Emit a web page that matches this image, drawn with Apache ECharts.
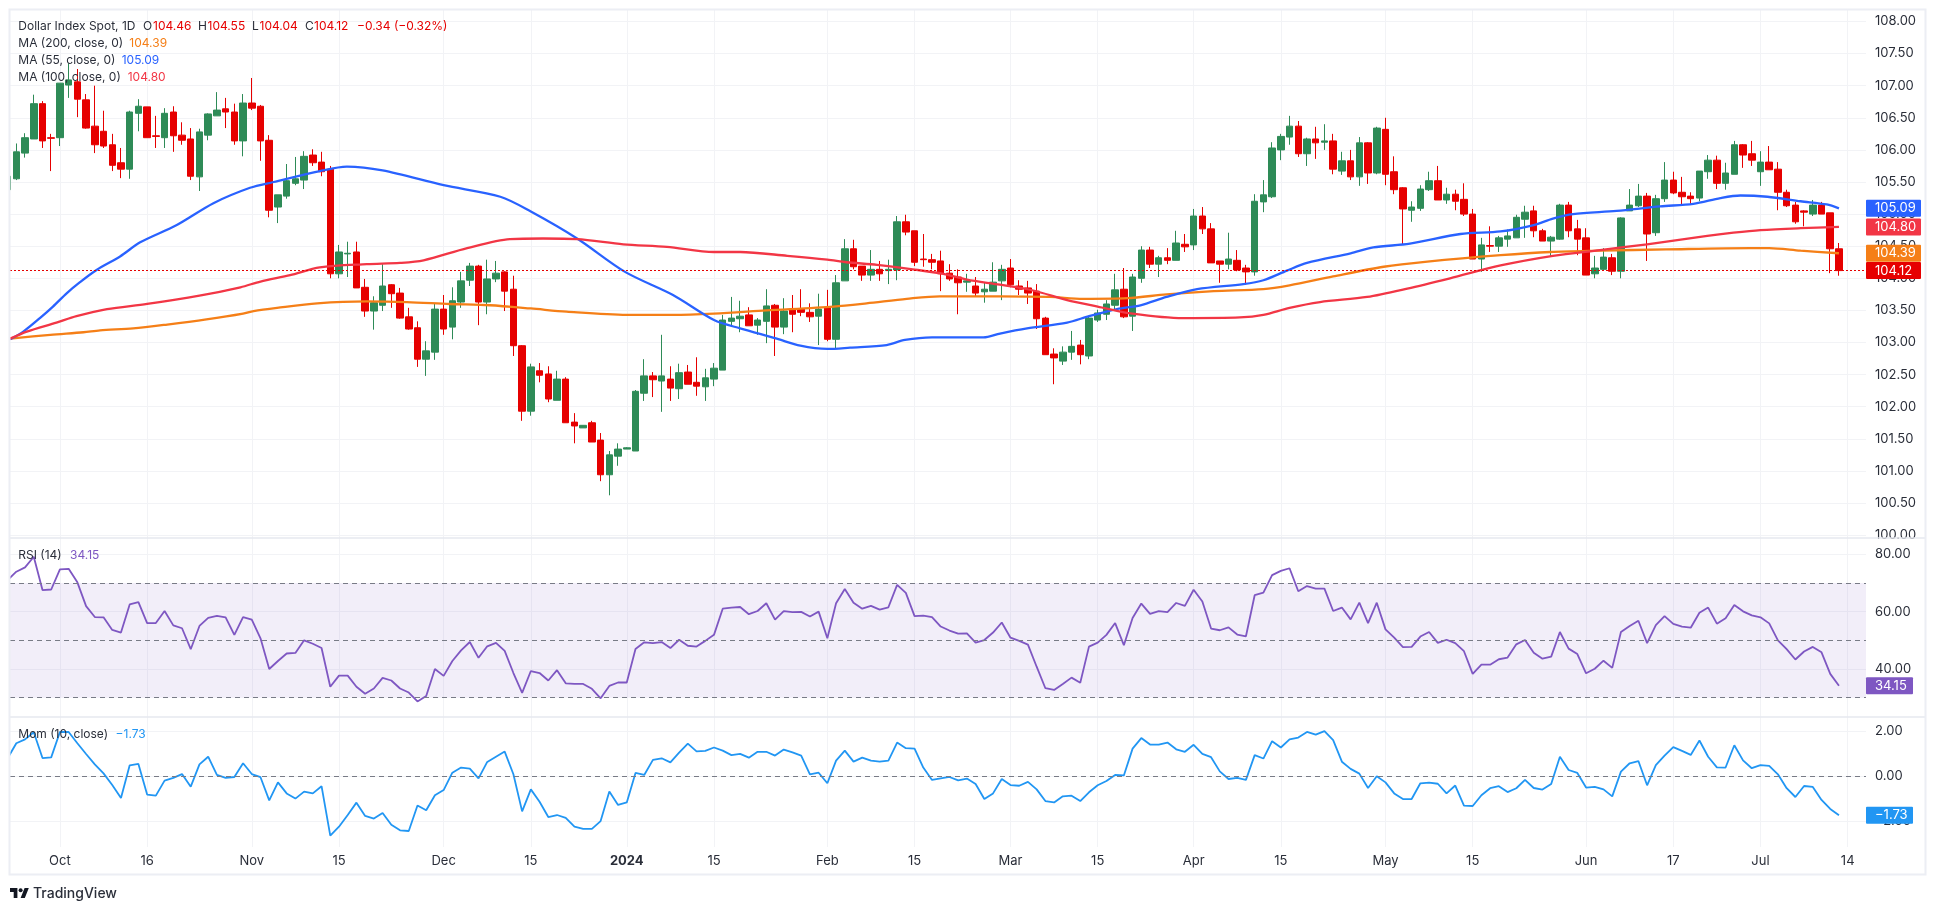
<!DOCTYPE html>
<html>
<head>
<meta charset="utf-8">
<title>Dollar Index Spot</title>
<style>
html, body { margin: 0; padding: 0; background: #fff; }
#container { width: 1936px; height: 910px; }
</style>
<script src="https://cdn.jsdelivr.net/npm/echarts@6/dist/echarts.min.js"></script>
</head>
<body>
<div id="container"></div>
<script>
// daily bars, bar 0 is the clipped one at the left edge: open, high, low, close
var ohlc = [
[105.38,105.60,105.38,105.59],[105.55,106.10,105.53,105.97],[105.95,106.26,105.88,106.19],[106.17,106.86,106.17,106.72],[106.72,106.76,106.03,106.14],
[106.19,106.25,105.67,106.18],[106.19,107.04,106.06,107.04],[107.01,107.35,106.81,107.09],[107.06,107.26,106.51,106.79],[106.78,106.87,106.33,106.34],
[106.37,107.00,105.95,106.08],[106.29,106.61,106.03,106.06],[106.08,106.25,105.67,105.76],[105.80,106.03,105.56,105.70],[105.70,106.61,105.55,106.59],
[106.57,106.79,106.29,106.68],[106.67,106.67,106.19,106.19],[106.22,106.53,106.03,106.21],[106.19,106.65,106.03,106.57],[106.59,106.68,105.97,106.22],
[106.23,106.43,106.08,106.15],[106.17,106.34,105.53,105.59],[105.58,106.33,105.36,106.28],[106.23,106.57,106.15,106.56],[106.53,106.90,106.53,106.62],
[106.64,106.81,106.34,106.59],[106.59,106.72,106.08,106.14],[106.14,106.87,105.90,106.73],[106.73,107.12,106.62,106.65],[106.68,106.70,105.83,106.14],
[106.15,106.23,104.95,105.06],[105.11,105.30,104.86,105.30],[105.28,105.78,105.24,105.52],[105.48,105.89,105.45,105.55],[105.53,105.98,105.39,105.90],
[105.92,106.01,105.75,105.80],[105.81,105.97,105.59,105.66],[105.70,105.75,104.00,104.07],[104.07,104.52,104.00,104.41],[104.38,104.57,104.02,104.39],
[104.41,104.57,103.85,103.85],[103.86,103.99,103.40,103.49],[103.49,103.72,103.20,103.62],[103.58,104.22,103.49,103.88],[103.90,103.91,103.54,103.76],
[103.77,103.85,103.37,103.38],[103.40,103.54,103.20,103.21],[103.23,103.33,102.62,102.74],[102.74,103.02,102.48,102.87],[102.85,103.60,102.73,103.52],
[103.52,103.74,103.12,103.21],[103.24,103.86,103.05,103.65],[103.63,104.10,103.54,103.96],[103.97,104.24,103.88,104.19],[104.19,104.21,103.27,103.63],
[103.63,104.29,103.44,103.99],[103.99,104.27,103.94,104.08],[104.10,104.11,103.49,103.80],[103.83,104.04,102.79,102.95],[102.95,102.96,101.78,101.93],
[101.93,102.67,101.86,102.62],[102.56,102.68,102.38,102.49],[102.51,102.63,102.07,102.12],[102.10,102.56,102.10,102.43],[102.43,102.46,101.75,101.75],
[101.76,101.90,101.43,101.70],[101.67,101.71,101.67,101.71],[101.75,101.78,101.45,101.45],[101.48,101.59,100.84,100.94],[100.94,101.31,100.62,101.25],
[101.23,101.43,101.08,101.34],[101.34,101.37,101.34,101.36],[101.31,102.26,101.31,102.24],[102.21,102.74,102.09,102.48],[102.48,102.54,102.15,102.42],
[102.40,103.12,101.92,102.48],[102.43,102.63,102.09,102.29],[102.28,102.67,102.12,102.53],[102.54,102.65,102.35,102.35],[102.38,102.77,102.17,102.32],
[102.31,102.59,102.09,102.45],[102.43,102.68,102.32,102.60],[102.57,103.43,102.57,103.35],[103.33,103.71,103.27,103.38],[103.37,103.65,103.16,103.41],
[103.43,103.55,103.26,103.26],[103.27,103.38,103.12,103.35],[103.33,103.83,102.99,103.57],[103.58,103.60,102.79,103.24],[103.24,103.69,103.13,103.49],
[103.51,103.74,103.16,103.44],[103.52,103.83,103.41,103.47],[103.47,103.61,103.32,103.40],[103.41,103.76,102.96,103.52],[103.54,103.82,103.02,103.05],
[103.05,104.05,102.91,103.93],[103.96,104.61,103.96,104.46],[104.46,104.60,104.14,104.18],[104.19,104.19,103.96,104.05],[104.05,104.44,103.96,104.14],
[104.14,104.27,103.96,104.07],[104.12,104.29,103.91,104.14],[104.13,104.97,103.97,104.88],[104.88,104.99,104.67,104.72],[104.74,104.74,104.19,104.25],
[104.30,104.69,104.18,104.29],[104.29,104.38,104.14,104.25],[104.27,104.43,103.80,104.07],[104.08,104.22,103.96,103.99],[104.02,104.14,103.44,103.93],
[103.94,104.07,103.79,103.96],[103.88,104.02,103.72,103.77],[103.79,103.93,103.62,103.83],[103.80,104.25,103.80,103.94],[103.96,104.21,103.66,104.14],
[104.16,104.30,103.86,103.90],[103.88,103.97,103.74,103.83],[103.85,103.96,103.60,103.77],[103.80,103.91,103.21,103.37],[103.38,103.40,102.81,102.81],
[102.82,102.91,102.35,102.76],[102.71,102.94,102.65,102.85],[102.85,103.18,102.73,102.94],[102.96,103.04,102.66,102.81],[102.79,103.40,102.74,103.38],
[103.35,103.51,103.32,103.46],[103.44,103.66,103.35,103.60],[103.58,104.07,103.51,103.82],[103.83,104.16,103.38,103.40],[103.41,104.07,103.18,104.02],
[104.00,104.50,103.93,104.44],[104.44,104.49,104.16,104.22],[104.22,104.35,104.02,104.32],[104.32,104.47,104.22,104.28],[104.28,104.74,104.28,104.55],
[104.53,104.69,104.41,104.49],[104.52,105.08,104.44,104.97],[104.97,105.11,104.69,104.77],[104.77,104.86,104.24,104.24],[104.27,104.27,103.93,104.22],
[104.22,104.71,104.14,104.30],[104.28,104.44,104.11,104.13],[104.16,104.21,103.90,104.10],[104.10,105.31,104.04,105.20],[105.19,105.53,105.03,105.30],
[105.27,106.12,105.25,106.03],[106.00,106.25,105.84,106.21],[106.20,106.53,106.08,106.37],[106.37,106.45,105.89,105.94],[105.94,106.19,105.75,106.17],
[106.17,106.36,105.86,106.11],[106.12,106.40,106.00,106.14],[106.14,106.25,105.62,105.70],[105.67,105.97,105.61,105.83],[105.83,106.00,105.53,105.58],
[105.58,106.20,105.44,106.11],[106.11,106.12,105.47,105.64],[105.64,106.36,105.62,106.34],[106.32,106.50,105.45,105.62],[105.66,105.90,105.31,105.38],
[105.41,105.42,104.53,105.08],[105.06,105.20,104.88,105.11],[105.09,105.45,105.05,105.39],[105.38,105.66,105.36,105.52],[105.52,105.75,105.22,105.22],
[105.22,105.41,105.16,105.31],[105.31,105.38,105.06,105.20],[105.23,105.48,104.97,105.00],[105.00,105.08,104.30,104.30],[104.30,104.63,104.10,104.52],
[104.51,104.81,104.41,104.50],[104.50,104.66,104.41,104.63],[104.61,104.76,104.49,104.66],[104.63,104.99,104.63,104.95],[104.92,105.13,104.63,105.03],
[105.05,105.13,104.64,104.74],[104.74,104.77,104.58,104.58],[104.58,104.66,104.35,104.64],[104.61,105.16,104.60,105.14],[105.14,105.19,104.64,104.74],
[104.77,104.91,104.36,104.61],[104.63,104.78,104.05,104.05],[104.07,104.35,104.00,104.16],[104.14,104.47,104.13,104.33],[104.32,104.38,104.05,104.11],
[104.11,104.95,104.00,104.94],[105.05,105.39,105.05,105.14],[105.13,105.47,105.11,105.28],[105.28,105.33,104.27,104.69],[104.71,105.30,104.66,105.24],
[105.24,105.81,105.19,105.53],[105.53,105.66,105.31,105.33],[105.34,105.58,105.14,105.27],[105.28,105.34,105.16,105.24],[105.25,105.67,105.20,105.67],
[105.66,105.92,105.55,105.84],[105.84,105.91,105.39,105.48],[105.48,105.80,105.38,105.64],[105.62,106.14,105.62,106.08],[106.08,106.09,105.72,105.92],
[105.94,106.14,105.75,105.84],[105.66,105.98,105.44,105.81],[105.81,106.06,105.69,105.69],[105.70,105.81,105.06,105.34],[105.34,105.38,105.11,105.13],
[105.14,105.19,104.85,104.88],[105.05,105.06,104.81,105.03],[105.00,105.22,104.97,105.14],[105.14,105.19,105.00,105.00],[105.02,105.02,104.08,104.46],
[104.46,104.55,104.04,104.12]
];

// moving averages, read at the bends of each line
var ma200Bars = [0.3,4.9,8.7,10.6,14.4,18.3,22.8,27,28.2,30.9,35.5,41.2,45.8,50.7,55.3,60,64.1,71,76.3,81,87,94.7,98.5,103.1,106.9,113.8,119.5,123.3,128.4,132.9,138.3,144,147,152,157.8,162.8,171.2,176.9,182.6,190.2,199.8,202,205.6,210];
var ma200Vals = [103.06,103.12,103.16,103.19,103.22,103.28,103.36,103.45,103.49,103.54,103.61,103.64,103.63,103.60,103.58,103.53,103.48,103.43,103.43,103.45,103.50,103.56,103.61,103.68,103.72,103.72,103.71,103.68,103.69,103.75,103.80,103.83,103.89,104.03,104.18,104.26,104.36,104.41,104.43,104.45,104.47,104.47,104.43,104.39];
var ma55Bars = [0.3,1.8,3.7,5.2,6.8,8.3,10.2,12.9,15.2,19.4,23.6,27.8,30.5,35.8,38.9,43,50,56.5,60,65.3,70.8,76.3,81,84,88.2,90.9,94,96.6,100.8,102.9,106,111.9,113.8,116.9,121.5,124,127.2,129.9,132.9,136.4,141.7,144,146.7,149,154,156.6,160.8,166.6,171.2,175,177.2,179.5,184.5,189.5,193.3,196.4,198.7,201.8,205.6,208.6,210];
var ma55Vals = [103.05,103.17,103.38,103.56,103.77,103.94,104.13,104.34,104.56,104.83,105.17,105.41,105.50,105.67,105.74,105.68,105.45,105.27,105.04,104.62,104.10,103.74,103.35,103.22,103.06,102.95,102.90,102.92,102.96,103.04,103.08,103.08,103.14,103.22,103.31,103.41,103.52,103.58,103.71,103.83,103.91,103.97,104.12,104.24,104.39,104.48,104.54,104.69,104.73,104.83,104.93,105.00,105.05,105.12,105.16,105.25,105.29,105.27,105.20,105.15,105.09];
var ma100Bars = [0.3,2.2,5.6,7.9,11.4,16,22,26.7,29,32.4,35.8,41.2,45,47.7,52.7,57.6,61.4,65.3,70.6,75.6,81,84,89.4,94,96.2,99.7,103.8,107.3,110,113.8,117.6,121.5,125,129,134.8,141.3,144,147,150.5,155.9,160.5,165.4,171.2,177.2,182.6,188,194.9,197.9,201,205.6,210];
var ma100Vals = [103.06,103.17,103.31,103.41,103.52,103.60,103.73,103.86,103.95,104.05,104.17,104.22,104.24,104.28,104.47,104.61,104.62,104.61,104.53,104.49,104.41,104.41,104.35,104.29,104.25,104.21,104.14,104.07,103.98,103.90,103.81,103.66,103.56,103.45,103.38,103.39,103.43,103.54,103.63,103.71,103.84,104.00,104.20,104.35,104.44,104.53,104.66,104.71,104.75,104.78,104.80];

// one value per bar
var rsi = [
71.0,73.9,75.4,79.1,67.5,67.7,74.7,74.9,70.2,61.9,58.1,58.0,53.6,52.7,62.5,63.3,56.0,56.0,60.2,55.2,
54.2,46.9,55.0,57.8,58.5,58.0,51.9,58.1,57.2,50.7,40.0,42.8,45.4,45.6,50.0,48.8,47.3,33.8,37.7,37.7,
33.8,31.4,33.2,36.9,36.0,33.2,31.8,28.7,30.6,40.0,37.6,42.8,46.5,49.4,43.9,47.9,49.1,46.3,38.6,31.7,
39.3,38.6,36.0,39.6,35.0,34.8,34.8,33.1,29.8,34.1,35.3,35.3,47.0,49.3,49.0,49.4,47.3,50.2,48.1,47.8,
49.8,51.9,61.0,61.4,61.6,59.1,60.2,62.9,57.2,60.2,59.8,59.9,58.3,60.0,50.7,62.9,67.9,63.1,61.0,62.0,
60.7,61.5,69.3,66.5,58.4,58.6,58.1,54.8,53.4,52.3,52.4,49.2,50.1,52.7,56.2,50.9,49.8,48.5,40.8,33.3,
32.7,34.8,37.0,35.2,47.8,49.2,51.9,56.0,48.3,57.8,62.8,59.2,60.2,59.8,63.0,62.0,67.6,63.5,54.1,53.5,
54.5,52.0,51.4,65.7,66.6,72.7,74.2,75.1,67.1,68.9,68.0,68.0,60.2,61.4,57.3,63.1,56.0,63.1,53.8,50.9,
47.6,47.7,51.3,52.9,49.1,50.2,49.0,46.2,38.3,41.5,41.5,43.4,44.0,48.6,50.1,45.7,43.6,44.3,52.9,47.1,
45.2,38.5,40.1,42.9,40.4,52.9,55.0,56.8,49.0,55.3,58.4,55.7,54.8,54.4,59.6,61.4,55.8,57.7,62.3,60.1,
58.7,58.0,55.9,50.0,46.9,43.3,46.1,47.7,45.8,38.3,34.15
];
var mom = [
0.80,1.47,1.64,1.96,0.81,0.84,1.97,1.97,1.47,0.99,0.53,0.13,-0.39,-0.96,0.49,0.55,-0.81,-0.86,-0.19,-0.07,
0.10,-0.46,0.53,0.87,0.06,-0.07,-0.03,0.58,0.10,-0.04,-1.07,-0.27,-0.76,-0.99,-0.68,-0.76,-0.44,-2.64,-2.24,-1.72,
-1.17,-1.76,-1.88,-1.63,-2.15,-2.40,-2.43,-1.30,-1.51,-0.84,-0.61,0.16,0.39,0.34,-0.09,0.64,0.87,1.10,0.09,-1.56,
-0.58,-1.13,-1.81,-1.72,-1.85,-2.24,-2.34,-2.34,-1.99,-0.68,-1.27,-1.16,0.15,0.06,0.73,0.80,0.62,1.05,1.45,1.11,
1.13,1.28,1.14,0.94,1.00,0.83,1.09,1.09,0.92,1.19,1.06,0.92,0.09,0.16,-0.31,0.70,1.14,0.65,0.83,0.70,
0.65,0.70,1.50,1.25,1.23,0.39,-0.16,-0.09,-0.03,-0.18,-0.10,-0.34,-1.01,-0.76,-0.12,-0.39,-0.42,-0.25,-0.58,-1.10,
-1.16,-0.89,-0.86,-1.10,-0.71,-0.40,-0.21,0.06,0.04,1.23,1.70,1.41,1.41,1.50,1.20,1.09,1.40,1.00,0.85,0.22,
-0.12,-0.07,-0.16,0.94,0.79,1.56,1.28,1.64,1.72,1.97,1.85,2.01,1.61,0.65,0.33,0.12,-0.52,0,-0.27,-0.76,
-1.01,-1.01,-0.31,-0.28,-0.33,-0.76,-0.41,-1.30,-1.32,-0.84,-0.53,-0.44,-0.70,-0.53,-0.16,-0.52,-0.59,-0.34,0.87,0.28,
0.15,-0.50,-0.47,-0.58,-0.89,0.21,0.58,0.68,-0.40,0.50,0.92,1.30,1.13,0.95,1.59,0.87,0.40,0.39,1.38,0.71,
0.36,0.50,0.46,0.09,-0.53,-0.92,-0.43,-0.47,-1.05,-1.45,-1.73
];

// axis ticks
var timeTickBars = [6,16,28,38,50,60,71,81,94,104,115,125,136,146,158,168,181,191,201,211];
var timeTickLabels = ['Oct','16','Nov','15','Dec','15','2024','15','Feb','15','Mar','15','Apr','15','May','15','Jun','17','Jul','14'];
var priceTicks = [100,100.5,101,101.5,102,102.5,103,103.5,104,104.5,105,105.5,106,106.5,107,107.5,108];
var rsiTicks = [40,60,80];
var momTicks = [-2,0,2];

// last values shown in the legend and the axis tags
var lastClose = 104.12, lastMa200 = 104.39, lastMa55 = 105.09, lastMa100 = 104.80, lastRsi = 34.15, lastMom = -1.73;

var UP = '#2e8b57', DOWN = '#e60000', ORANGE = '#f57f17', BLUE = '#2962ff', CORAL = '#f23645', PURPLE = '#7e57c2', SKY = '#2196f3';
var GRID = '#f2f3f6', TEXT = '#2a2e39', FONT = 'Inter';
var XMIN = 0.275, XMAX = 213.1;

function money(v) { return v.toFixed(2).replace('-', '\u2212'); }
function zip(a, b) { return a.map(function (x, i) { return [x, b[i]]; }); }
function byBar(arr) { return arr.map(function (v, i) { return [i, v]; }); }

function xAxis(gridIndex, showLabels) {
    return {
        type: 'value', gridIndex: gridIndex, min: XMIN, max: XMAX,
        axisLine: { show: false },
        axisTick: { show: false, customValues: timeTickBars },
        splitLine: { show: true, lineStyle: { color: GRID, width: 1 } },
        axisLabel: {
            show: showLabels, customValues: timeTickBars, margin: 8, fontFamily: FONT, fontSize: 13, color: TEXT,
            formatter: function (v) {
                var s = timeTickLabels[timeTickBars.indexOf(v)];
                return s === '2024' ? '{b|2024}' : s;
            },
            rich: { b: { fontFamily: FONT, fontSize: 13, fontWeight: 700, color: TEXT } }
        }
    };
}
function yAxis(gridIndex, min, max, ticks) {
    return {
        type: 'value', gridIndex: gridIndex, position: 'right', min: min, max: max,
        axisLine: { show: false },
        axisTick: { show: false, customValues: ticks },
        splitLine: { show: true, lineStyle: { color: GRID, width: 1 } },
        axisLabel: { customValues: ticks, margin: 9, fontFamily: FONT, fontSize: 13, color: TEXT, formatter: money }
    };
}
function line(name, data, color, width, smooth, gridIndex) {
    return {
        name: name, type: 'line', data: data, xAxisIndex: gridIndex, yAxisIndex: gridIndex,
        showSymbol: false, smooth: smooth, silent: true, z: 3,
        lineStyle: { color: color, width: width }
    };
}
function dashed(values) {
    return {
        symbol: 'none', silent: true, label: { show: false }, animation: false,
        lineStyle: { color: '#787b86', type: [5, 4], width: 1 },
        data: values.map(function (v) { return { yAxis: v }; })
    };
}
// value tags sitting on the price scale
function tags(values, colors, gridIndex, tagWidth) {
    return {
        type: 'custom', xAxisIndex: gridIndex, yAxisIndex: gridIndex, silent: true, z: 10, clip: false,
        data: values.map(function (v) { return [XMAX, v]; }),
        encode: { x: 0, y: 1 },
        renderItem: function (params, api) {
            var p = api.coord([api.value(0), api.value(1)]);
            return {
                type: 'group',
                children: [
                    { type: 'rect', shape: { x: p[0], y: p[1] - 8.5, width: tagWidth, height: 17, r: 1 }, style: { fill: colors[params.dataIndex] } },
                    { type: 'text', style: { x: p[0] + 9, y: p[1], text: money(api.value(1)), fill: '#fff', font: '13px ' + FONT, textVerticalAlign: 'middle' } }
                ]
            };
        }
    };
}

var candle = {
    name: 'Dollar Index Spot', type: 'candlestick', xAxisIndex: 0, yAxisIndex: 0, barWidth: 7, silent: true, z: 2,
    encode: { x: 0, y: [1, 2, 3, 4] },
    data: ohlc.map(function (d, i) { return [i, d[0], d[3], d[2], d[1]]; }),
    itemStyle: { color: UP, color0: DOWN, borderColor: UP, borderColor0: DOWN, borderWidth: 1 },
    markLine: {
        symbol: 'none', silent: true, label: { show: false }, animation: false,
        lineStyle: { color: DOWN, type: [2, 2], width: 1 },
        data: [{ yAxis: lastClose }]
    }
};

var rsiLine = line('RSI', byBar(rsi), PURPLE, 1.8, false, 1);
rsiLine.markLine = dashed([70, 50, 30]);
rsiLine.markArea = { silent: true, itemStyle: { color: 'rgba(126,87,194,0.1)' }, data: [[{ yAxis: 70 }, { yAxis: 30 }]] };
var momLine = line('Mom', byBar(mom), SKY, 1.8, false, 2);
momLine.markLine = dashed([0]);

function label(x, y, text, color, weight) {
    return { type: 'text', x: x, y: y, silent: true, z: 60,
        style: { text: text, fill: color, font: (weight || 400) + ' 12px ' + FONT, textVerticalAlign: 'middle' } };
}

var option = {
    animation: false,
    backgroundColor: '#fff',
    grid: [
        { left: 10, width: 1856, top: 10, height: 528 },
        { left: 10, width: 1856, top: 538, height: 179 },
        { left: 10, width: 1856, top: 717, height: 130 }
    ],
    xAxis: [xAxis(0, false), xAxis(1, false), xAxis(2, true)],
    yAxis: [
        yAxis(0, 99.955, 108.179, priceTicks),
        yAxis(1, 23.28, 85.64, rsiTicks),
        yAxis(2, -3.142, 2.636, momTicks)
    ],
    series: [
        candle,
        line('MA 200', zip(ma200Bars, ma200Vals), ORANGE, 2.3, 0.3, 0),
        line('MA 55', zip(ma55Bars, ma55Vals), BLUE, 2.3, 0.3, 0),
        line('MA 100', zip(ma100Bars, ma100Vals), CORAL, 2.3, 0.3, 0),
        rsiLine,
        momLine,
        tags([lastMa55, lastMa100, lastMa200, lastClose], [BLUE, CORAL, ORANGE, DOWN], 0, 55),
        tags([lastRsi], [PURPLE], 1, 47),
        tags([lastMom], [SKY], 2, 47)
    ],
    graphic: [
        // the first bar hangs over the pane edge, keep only what is inside
        { type: 'rect', silent: true, z: 50, shape: { x: 0, y: 0, width: 9, height: 538 }, style: { fill: '#fff' } },
        // frame and pane separators
        { type: 'rect', silent: true, z: 51, shape: { x: 9.5, y: 9.5, width: 1916, height: 865 }, style: { fill: null, stroke: '#eceef4', lineWidth: 2 } },
        { type: 'line', silent: true, z: 1, shape: { x1: 10, y1: 538, x2: 1926, y2: 538 }, style: { stroke: '#e6e8ef', lineWidth: 1.5 } },
        { type: 'line', silent: true, z: 1, shape: { x1: 10, y1: 717, x2: 1926, y2: 717 }, style: { stroke: '#e6e8ef', lineWidth: 1.5 } },
        // legends
        label(18.3, 26.5, 'Dollar Index Spot, 1D', TEXT),
        label(143, 26.5, 'O', TEXT), label(153, 26.5, '104.46', DOWN),
        label(198, 26.5, 'H', TEXT), label(207.5, 26.5, '104.55', DOWN),
        label(252, 26.5, 'L', TEXT), label(259.5, 26.5, '104.04', DOWN),
        label(305, 26.5, 'C', TEXT), label(314, 26.5, '104.12', DOWN),
        label(357, 26.5, '\u22120.34 (\u22120.32%)', DOWN),
        label(18.3, 43.5, 'MA (200, close, 0)', TEXT), label(129.3, 43.5, money(lastMa200), ORANGE),
        label(18.3, 60.5, 'MA (55, close, 0)', TEXT), label(121.7, 60.5, money(lastMa55), BLUE),
        label(18.3, 77.5, 'MA (100, close, 0)', TEXT), label(127.7, 77.5, money(lastMa100), CORAL),
        label(18.3, 555, 'RSI (14)', TEXT), label(70, 555, money(lastRsi), PURPLE),
        label(18.3, 734.5, 'Mom (10, close)', TEXT), label(115.6, 734.5, money(lastMom), SKY),
        // TradingView mark
        { type: 'polygon', silent: true, shape: { points: [[10,888],[17.4,888],[17.4,898],[13.7,898],[13.7,891.9],[10,891.9]] }, style: { fill: '#131722' } },
        { type: 'polygon', silent: true, shape: { points: [[24.6,888],[28.8,888],[24.8,898],[20.6,898]] }, style: { fill: '#131722' } },
        { type: 'circle', silent: true, shape: { cx: 20.6, cy: 890.2, r: 2 }, style: { fill: '#131722' } },
        { type: 'text', x: 33, y: 894, silent: true, style: { text: 'TradingView', fill: '#2a2e39', font: '500 14px ' + FONT, textVerticalAlign: 'middle' } }
    ]
};

var myChart = echarts.init(document.getElementById('container'));
myChart.setOption(option, true);
</script>
</body>
</html>
